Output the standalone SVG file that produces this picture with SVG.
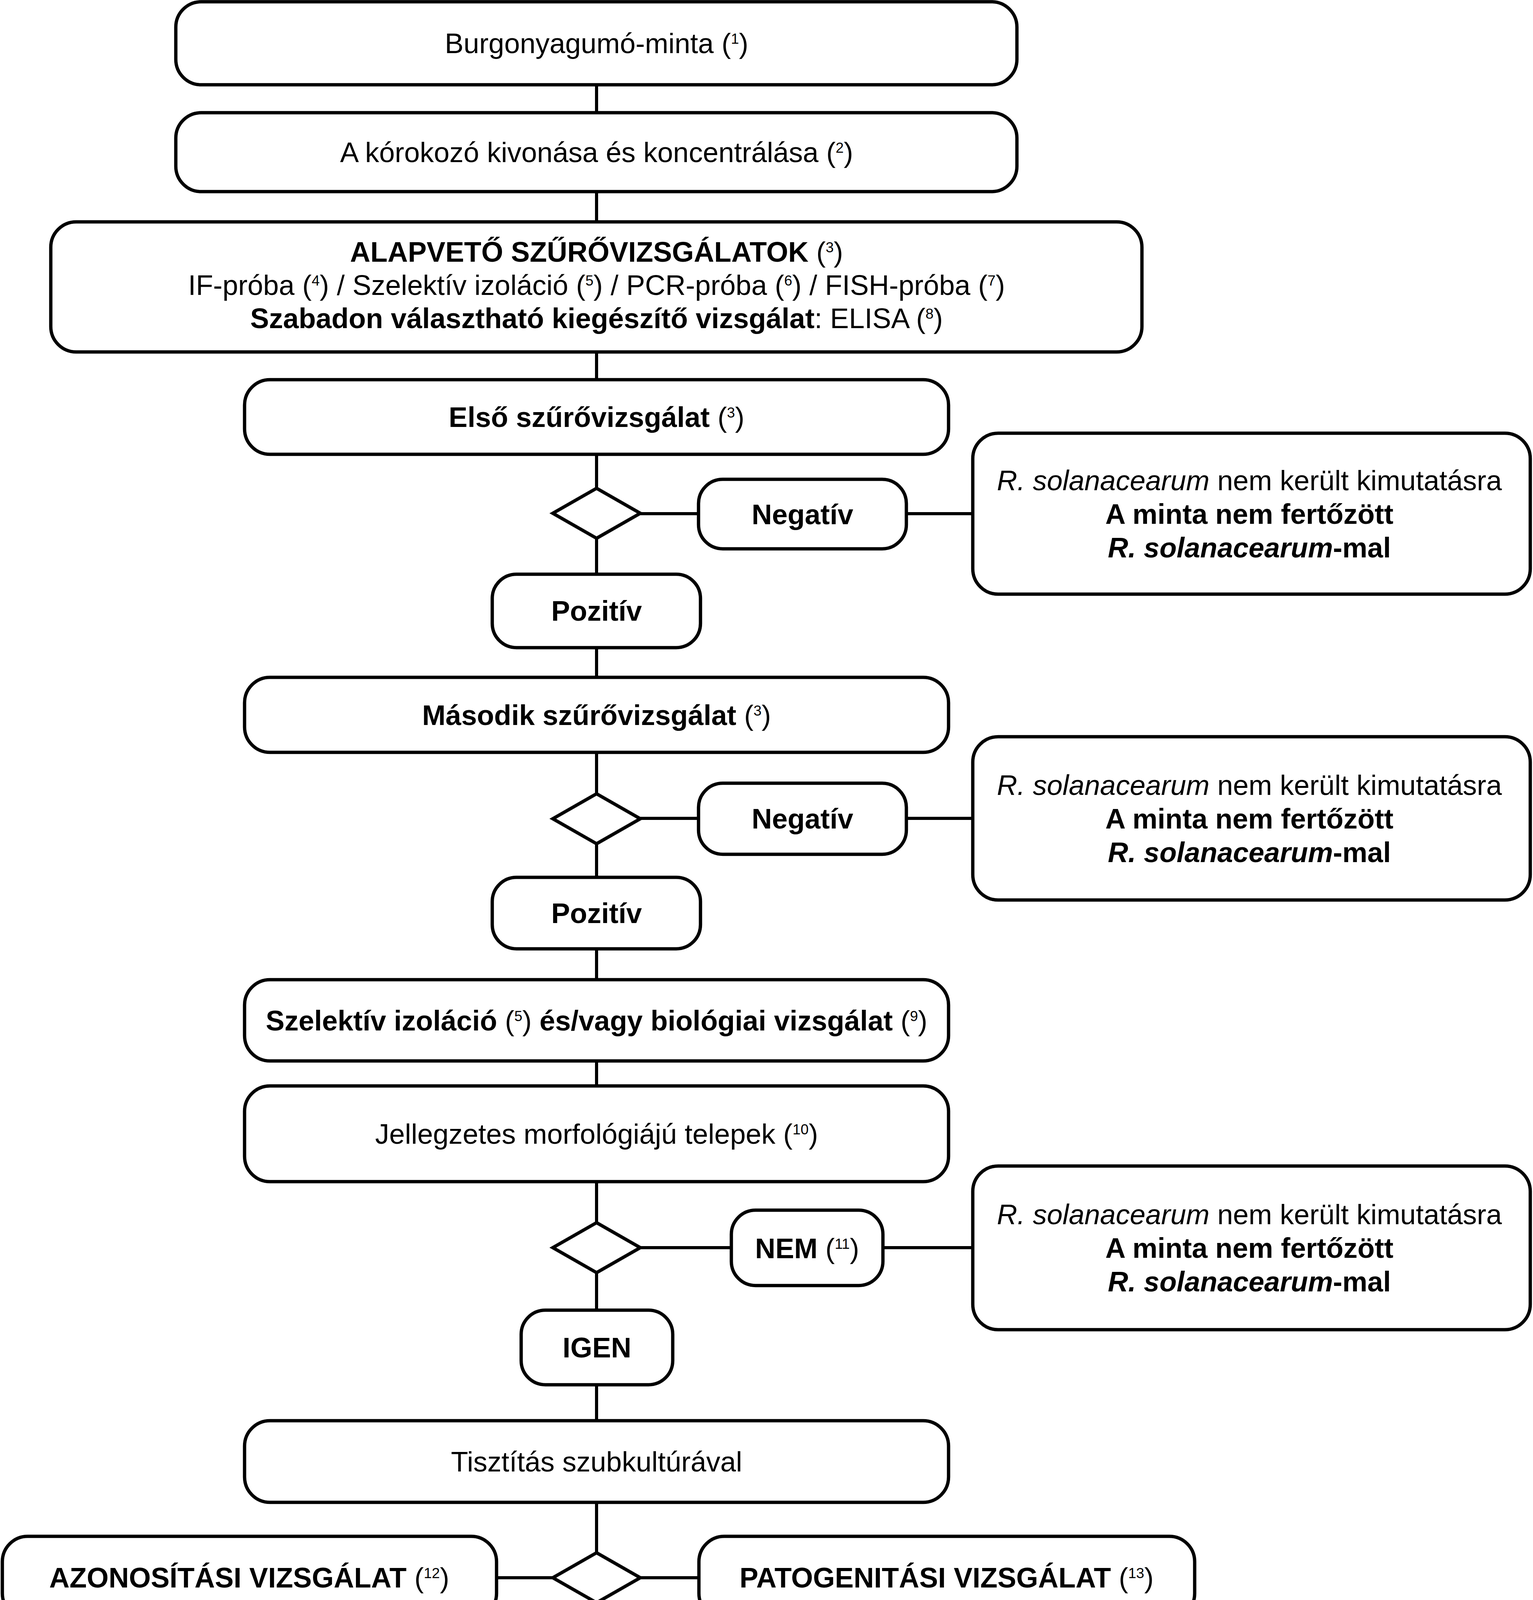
<svg xmlns="http://www.w3.org/2000/svg" width="3924" height="5433" viewBox="0 0 3924 5433">
<style>
.b{fill:#fff;stroke:#000;stroke-width:8.5}
.d{fill:#fff;stroke:#000;stroke-width:8.5;stroke-linejoin:miter}
.c{fill:none;stroke:#000;stroke-width:8}
text{font-family:"Liberation Sans",Arial,Helvetica,sans-serif;font-size:72px;text-anchor:middle;fill:#000}
.bd{font-weight:bold}
.it{font-style:italic}
.s{font-size:37px;font-weight:normal}
</style>
<rect width="3924" height="5433" fill="#fff"/>
<g id="connectors">
<path class="c" d="M1527 217V289M1527 490V568M1527 901V972M1527 1163V1250M1527 1378V1470M1527 1658V1734M1527 1926V2032M1527 2160V2246M1527 2429V2508M1527 2716V2780M1527 3025V3130M1527 3258V3354M1527 3545V3637M1527 3846V3975M1527 4103V4227M1527 4508V4632M1527 4760V4871M1527 5063V5150"/>
<path class="c" d="M1639 1315H1788M2320 1315H2490M1639 2095H1788M2320 2095H2490M1639 3194H1872M2260 3194H2490M1271 4039H1415M1639 4039H1789M1639 4697H1872M2260 4697H2490"/>
</g>
<g id="n1"><rect class="b" x="450" y="4.5" width="2153" height="212.5" rx="65"/>
<text x="1527" y="136">Burgonyagumó-minta (<tspan class="s" dy="-24">1</tspan><tspan dy="24">)</tspan></text></g>
<g id="n2"><rect class="b" x="450" y="288.5" width="2153" height="202" rx="65"/>
<text x="1527" y="415">A kórokozó kivonása és koncentrálása (<tspan class="s" dy="-24">2</tspan><tspan dy="24">)</tspan></text></g>
<g id="n3"><rect class="b" x="130" y="568" width="2793" height="333" rx="65"/>
<text x="1527" y="670"><tspan class="bd">ALAPVETŐ SZŰRŐVIZSGÁLATOK</tspan> (<tspan class="s" dy="-24">3</tspan><tspan dy="24">)</tspan></text>
<text x="1527" y="755">IF-próba (<tspan class="s" dy="-24">4</tspan><tspan dy="24">) / Szelektív izoláció (</tspan><tspan class="s" dy="-24">5</tspan><tspan dy="24">) / PCR-próba (</tspan><tspan class="s" dy="-24">6</tspan><tspan dy="24">) / FISH-próba (</tspan><tspan class="s" dy="-24">7</tspan><tspan dy="24">)</tspan></text>
<text x="1527" y="840"><tspan class="bd">Szabadon választható kiegészítő vizsgálat</tspan>: ELISA (<tspan class="s" dy="-24">8</tspan><tspan dy="24">)</tspan></text></g>
<g id="n4"><rect class="b" x="626" y="972" width="1802" height="191" rx="65"/>
<text x="1527" y="1093"><tspan class="bd">Első szűrővizsgálat</tspan> (<tspan class="s" dy="-24">3</tspan><tspan dy="24">)</tspan></text></g>
<g id="d1"><polygon class="d" points="1527,1250 1639,1314 1527,1378 1415,1314"/></g>
<g id="neg1"><rect class="b" x="1788" y="1227" width="532" height="178" rx="62"/>
<text class="bd" x="2054" y="1342">Negatív</text></g>
<g id="res1"><rect class="b" x="2490" y="1109" width="1427" height="412" rx="65"/>
<text x="3198" y="1255"><tspan class="it">R. solanacearum</tspan> nem került kimutatásra</text>
<text class="bd" x="3198" y="1341">A minta nem fertőzött</text>
<text class="bd" x="3198" y="1427"><tspan class="it">R. solanacearum</tspan>-mal</text></g>
<g id="poz1"><rect class="b" x="1260" y="1470" width="533" height="188" rx="62"/>
<text class="bd" x="1527" y="1589">Pozitív</text></g>
<g id="n5"><rect class="b" x="626" y="1734" width="1802" height="192" rx="65"/>
<text x="1527" y="1856"><tspan class="bd">Második szűrővizsgálat</tspan> (<tspan class="s" dy="-24">3</tspan><tspan dy="24">)</tspan></text></g>
<g id="d2"><polygon class="d" points="1527,2032 1639,2096 1527,2160 1415,2096"/></g>
<g id="neg2"><rect class="b" x="1788" y="2005" width="532" height="182" rx="62"/>
<text class="bd" x="2054" y="2121">Negatív</text></g>
<g id="res2"><rect class="b" x="2490" y="1886" width="1427" height="418" rx="65"/>
<text x="3198" y="2035"><tspan class="it">R. solanacearum</tspan> nem került kimutatásra</text>
<text class="bd" x="3198" y="2121">A minta nem fertőzött</text>
<text class="bd" x="3198" y="2207"><tspan class="it">R. solanacearum</tspan>-mal</text></g>
<g id="poz2"><rect class="b" x="1260" y="2246" width="533" height="183" rx="62"/>
<text class="bd" x="1527" y="2363">Pozitív</text></g>
<g id="n6"><rect class="b" x="626" y="2508" width="1802" height="208" rx="65"/>
<text x="1527" y="2638"><tspan class="bd">Szelektív izoláció </tspan>(<tspan class="s" dy="-24">5</tspan><tspan dy="24">) </tspan><tspan class="bd">és/vagy biológiai vizsgálat </tspan>(<tspan class="s" dy="-24">9</tspan><tspan dy="24">)</tspan></text></g>
<g id="n7"><rect class="b" x="626" y="2780" width="1802" height="245" rx="65"/>
<text x="1527" y="2928">Jellegzetes morfológiájú telepek (<tspan class="s" dy="-24">10</tspan><tspan dy="24">)</tspan></text></g>
<g id="d3"><polygon class="d" points="1527,3130 1639,3194 1527,3258 1415,3194"/></g>
<g id="nem1"><rect class="b" x="1872" y="3098" width="388" height="193" rx="62"/>
<text x="2066" y="3221"><tspan class="bd">NEM</tspan> (<tspan class="s" dy="-24">11</tspan><tspan dy="24">)</tspan></text></g>
<g id="res3"><rect class="b" x="2490" y="2985" width="1427" height="419" rx="65"/>
<text x="3198" y="3134"><tspan class="it">R. solanacearum</tspan> nem került kimutatásra</text>
<text class="bd" x="3198" y="3220">A minta nem fertőzött</text>
<text class="bd" x="3198" y="3306"><tspan class="it">R. solanacearum</tspan>-mal</text></g>
<g id="igen1"><rect class="b" x="1334" y="3354" width="388" height="191" rx="62"/>
<text class="bd" x="1528" y="3475">IGEN</text></g>
<g id="n8"><rect class="b" x="626" y="3637" width="1802" height="209" rx="65"/>
<text x="1527" y="3767">Tisztítás szubkultúrával</text></g>
<g id="d4"><polygon class="d" points="1527,3975 1639,4039 1527,4103 1415,4039"/></g>
<g id="azon"><rect class="b" x="6" y="3933" width="1265" height="211" rx="65"/>
<text x="638" y="4064"><tspan class="bd">AZONOSÍTÁSI VIZSGÁLAT</tspan> (<tspan class="s" dy="-24">12</tspan><tspan dy="24">)</tspan></text></g>
<g id="patog"><rect class="b" x="1789" y="3933" width="1269" height="211" rx="65"/>
<text x="2423" y="4064"><tspan class="bd">PATOGENITÁSI VIZSGÁLAT</tspan> (<tspan class="s" dy="-24">13</tspan><tspan dy="24">)</tspan></text></g>
<g id="n9"><rect class="b" x="626" y="4227" width="1802" height="281" rx="65"/>
<text x="1527" y="4355">Mindkét vizsgálat megerősíti, hogy a tiszta tenyészet</text>
<text class="it" x="1527" y="4439">R. solanacearum</text></g>
<g id="d5"><polygon class="d" points="1527,4632 1639,4696 1527,4760 1415,4696"/></g>
<g id="nem2"><rect class="b" x="1872" y="4597" width="388" height="201" rx="62"/>
<text class="bd" x="2066" y="4723">NEM</text></g>
<g id="res4"><rect class="b" x="2490" y="4558" width="1427" height="280" rx="65"/>
<text class="bd" x="3198" y="4682">A minta nem fertőzött</text>
<text class="bd" x="3198" y="4768"><tspan class="it">R. solanacearum</tspan>-mal</text></g>
<g id="igen2"><rect class="b" x="1334" y="4871" width="388" height="192" rx="62"/>
<text class="bd" x="1528" y="4993">IGEN</text></g>
<g id="n10"><rect class="b" x="626" y="5150" width="1802" height="280" rx="65"/>
<text class="bd" x="1527" y="5316">A minta <tspan class="it">R. solanacearum</tspan>-mal fertőzött</text></g>
</svg>
